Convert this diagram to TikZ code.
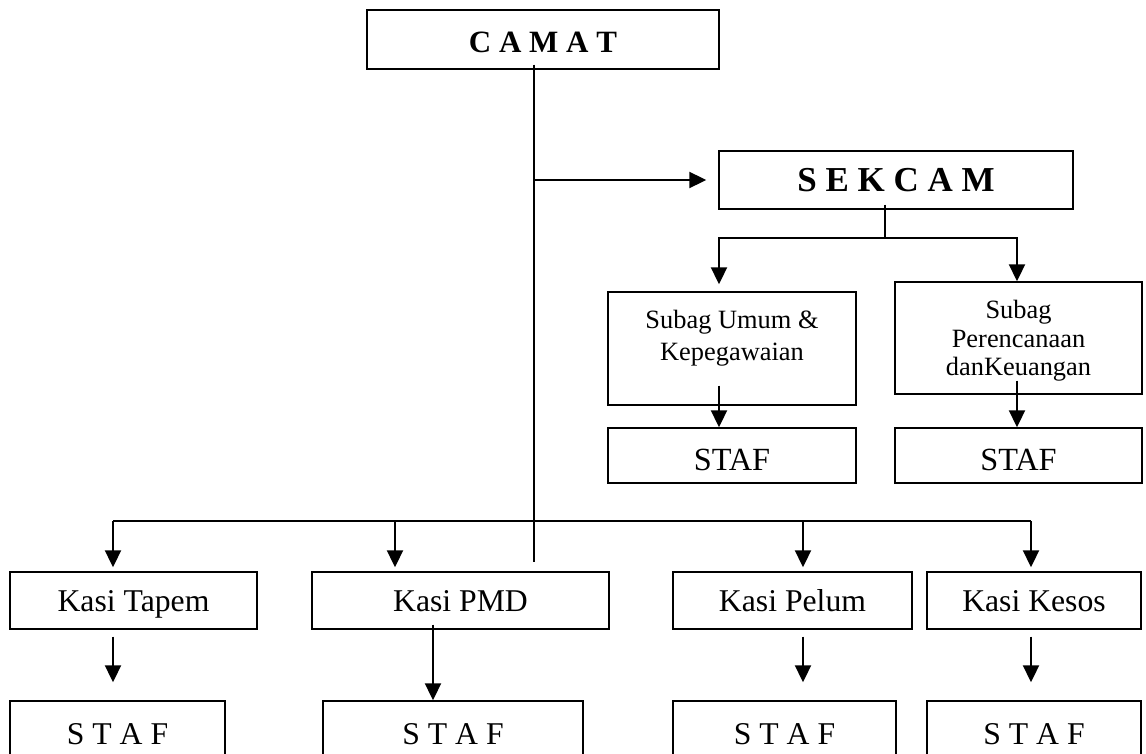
\documentclass[tikz,border=0pt]{standalone}
\usepackage{fontspec}
\setmainfont{Liberation Serif}
\usepackage{tikz}
\usetikzlibrary{arrows.meta, positioning}

\begin{document}
\begin{tikzpicture}[x=1pt, y=-1pt,
  box/.style={rectangle, draw=black, line width=1.4pt, inner sep=0pt, align=center},
  headbox/.style={box, font=\fontsize{31}{37}\selectfont\bfseries, text height=26pt, text depth=0pt},
  sekbox/.style={box, font=\fontsize{35}{42}\selectfont\bfseries},
  subbox/.style={box, font=\fontsize{26.4}{32}\selectfont},
  stafbox/.style={box, font=\fontsize{32.3}{39}\selectfont, text height=30pt, text depth=0pt},
  kasibox/.style={box, font=\fontsize{31.7}{38}\selectfont, text height=25pt, text depth=3pt},
  link/.style={line width=1.8pt},
  arr/.style={-{Triangle[length=17pt, width=16pt]}, line width=2pt}]
  \clip (0,0) rectangle (1146,754);
  % top level
  \node[headbox, minimum width=352pt, minimum height=59pt] (camat) at (543,39.5) {C A M A T};
  \node[sekbox, minimum width=354pt, minimum height=58pt] (sekcam) at (896,180) {S E K C A M};
  % sub sections under the secretary
  \node[subbox, minimum width=248pt, minimum height=113pt, text depth=27pt] (subum) at (732,348.5) {Subag Umum \&\\Kepegawaian};
  \node[subbox, minimum width=247pt, minimum height=112pt, text depth=0pt,
        font=\fontsize{26.4}{28.5}\selectfont] (subper) at (1018.5,338) {Subag\\Perencanaan\\danKeuangan};
  \node[stafbox, minimum width=248pt, minimum height=55pt] (stafum) at (732,455.5) {STAF};
  \node[stafbox, minimum width=247pt, minimum height=55pt] (stafper) at (1018.5,455.5) {STAF};
  % sections
  \node[kasibox, minimum width=247pt, minimum height=57pt] (tapem) at (133.5,600.5) {Kasi Tapem};
  \node[kasibox, minimum width=297pt, minimum height=57pt] (pmd) at (460.5,600.5) {Kasi PMD};
  \node[kasibox, minimum width=239pt, minimum height=57pt] (pelum) at (792.5,600.5) {Kasi Pelum};
  \node[kasibox, minimum width=214pt, minimum height=57pt] (kesos) at (1034,600.5) {Kasi Kesos};
  \node[kasibox, minimum width=215pt, minimum height=64pt] (staftapem) at (117.5,733) {S T A F};
  \node[kasibox, minimum width=260pt, minimum height=64pt] (stafpmd) at (453,733) {S T A F};
  \node[kasibox, minimum width=223pt, minimum height=64pt] (stafpelum) at (784.5,733) {S T A F};
  \node[kasibox, minimum width=214pt, minimum height=64pt] (stafkesos) at (1034,733) {S T A F};
  % junctions
  \coordinate (trunkend) at (534,562);
  \coordinate (sekjoin) at (534,180);
  \coordinate (subjoin) at (885,238);
  \coordinate (dtapem) at (113,521);
  \coordinate (dpmd) at (395,521);
  \coordinate (dpelum) at (803,521);
  \coordinate (dkesos) at (1031,521);
  % connectors
  \draw[link] ([xshift=-9pt,yshift=5pt]camat.south) -- (trunkend);
  \draw[arr] (sekjoin) -- ([xshift=-12pt]sekcam.west);
  \draw[link] ([xshift=-11pt,yshift=5pt]sekcam.south) -- (subjoin);
  \draw[arr] (subjoin) -| ([xshift=-13pt,yshift=7pt]subum.north);
  \draw[arr] (subjoin) -| ([xshift=-1.5pt]subper.north);
  \draw[arr] ([xshift=-13pt,yshift=20pt]subum.south) -- ([xshift=-13pt]stafum.north);
  \draw[arr] ([xshift=-1.5pt,yshift=14pt]subper.south) -- ([xshift=-1.5pt]stafper.north);
  \draw[link] (dtapem) -- (dkesos);
  \draw[arr, shorten >=4pt] (dtapem) -- (dtapem |- tapem.north);
  \draw[arr, shorten >=4pt] (dpmd) -- (dpmd |- pmd.north);
  \draw[arr, shorten >=4pt] (dpelum) -- (dpelum |- pelum.north);
  \draw[arr, shorten >=4pt] (dkesos) -- (dkesos |- kesos.north);
  \draw[arr, shorten <=7pt, shorten >=18pt] (dtapem |- tapem.south) -- (dtapem |- staftapem.north);
  \draw[arr] ([xshift=-27.5pt,yshift=5pt]pmd.south) -- ([xshift=-20pt]stafpmd.north);
  \draw[arr, shorten <=7pt, shorten >=18pt] (dpelum |- pelum.south) -- (dpelum |- stafpelum.north);
  \draw[arr, shorten <=7pt, shorten >=18pt] (dkesos |- kesos.south) -- (dkesos |- stafkesos.north);
\end{tikzpicture}
\end{document}
